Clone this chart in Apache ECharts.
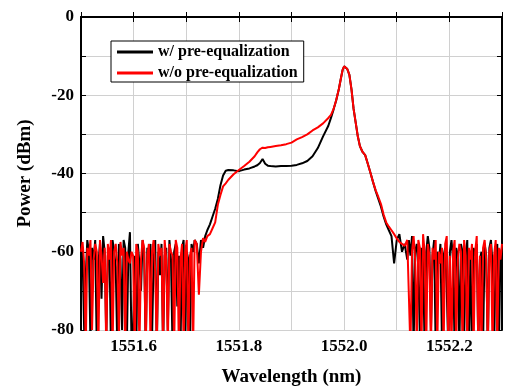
<!DOCTYPE html>
<html><head><meta charset="utf-8">
<script src="https://cdn.jsdelivr.net/npm/echarts@6/dist/echarts.min.js"></script>
<style>html,body{margin:0;padding:0;background:#fff}#c{width:505px;height:392px}</style>
</head><body><div id="c"></div>
<script>
// ---- data (wavelength in nm, power in dBm) ----
var wlLeft = [1551.500,1551.503,1551.506,1551.509,1551.512,1551.515,1551.518,1551.521,1551.524,1551.527,
1551.530,1551.533,1551.536,1551.539,1551.542,1551.545,1551.548,1551.551,1551.554,1551.557,
1551.560,1551.563,1551.566,1551.569,1551.572,1551.575,1551.578,1551.581,1551.584,1551.587,
1551.590,1551.593,1551.596,1551.599,1551.602,1551.605,1551.608,1551.611,1551.614,1551.617,
1551.620,1551.623,1551.626,1551.629,1551.632,1551.635,1551.638,1551.641,1551.644,1551.647,
1551.650,1551.653,1551.656,1551.659,1551.662,1551.665,1551.668,1551.671,1551.674,1551.677,
1551.680,1551.683,1551.686,1551.689,1551.692,1551.695,1551.698,1551.701,1551.704,1551.707,
1551.710,1551.713,1551.716];
var blackLeft = [-58,-61,-80,-66,-57,-60,-84,-59,-62,-57,
-85,-63,-58,-72,-56,-60,-82,-61,-59,-85,
-57,-60,-64,-85,-58,-62,-80,-57,-59,-85,
-60,-55,-84,-80,-61,-85,-58,-63,-70,-57,
-60,-85,-59,-61,-58,-82,-62,-57,-85,-60,
-66,-58,-85,-61,-59,-80,-57,-62,-85,-60,
-58,-74,-61,-85,-59,-57,-83,-60,-62,-85,
-58,-60,-57];
var redLeft = [-60,-57.5,-63,-85,-59,-61,-57,-80,-62,-58,
-60,-85,-57,-61,-68,-59,-85,-58,-62,-57,
-85,-60,-58,-63,-82,-57.5,-61,-59,-85,-60,
-62,-63,-60,-61,-85,-58,-60,-85,-62,-57,
-59,-85,-61,-58,-83,-60,-57,-65,-85,-58,
-61,-59,-85,-57,-62,-84,-58,-60,-61,-85,
-57,-59,-85,-62,-58,-85,-60,-57,-85,-61,
-59,-85,-57];

var wlMid = [1551.720,1551.724,1551.728,1551.732,1551.736,1551.740,1551.745,1551.750,1551.755,1551.760,
1551.765,1551.770,1551.775,1551.780,1551.790,1551.800,1551.810,1551.820,1551.830,1551.835,
1551.840,1551.845,1551.850,1551.855,1551.860,1551.870,1551.880,1551.890,1551.900,1551.910,
1551.920,1551.930,1551.940,1551.950,1551.960,1551.970,1551.975,1551.980,1551.985,1551.990,
1551.994,1551.997,1552.000,1552.003,1552.006,1552.010,1552.014,1552.018,1552.022,1552.026,
1552.030,1552.035,1552.040,1552.045,1552.050,1552.055,1552.060,1552.065,1552.070,1552.075,
1552.080,1552.085,1552.090,1552.095,1552.100,1552.105,1552.110,1552.115,1552.120];
var blackMid = [-58,-63,-57,-59,-56,-54.5,-53,-51,-49,-46.5,
-43,-40.5,-39.3,-39.1,-39.2,-39.4,-39,-38.7,-38.2,-37.9,
-37.3,-36.3,-37.5,-38,-38.1,-38.2,-38.1,-38.1,-38,-37.8,
-37.4,-36.8,-35.6,-33.5,-30.5,-27.8,-25.8,-23.6,-21.3,-18.4,
-15.6,-13.6,-12.6,-12.7,-13.3,-14.8,-18.5,-23.5,-27,-30.5,
-33,-34.5,-35.3,-37.5,-39.8,-42.2,-44.5,-46.5,-48.5,-51,
-53,-54.5,-56,-63,-57,-55.5,-60,-58,-62];
var redMid = [-58,-71,-60,-56.5,-57.5,-56,-55.5,-54,-52.5,-48,
-45.5,-43.3,-42.5,-41.6,-40.2,-39.1,-38.1,-37,-35.6,-34.6,
-33.8,-33.4,-33.5,-33.3,-33.2,-33,-32.8,-32.5,-32.1,-31.3,
-30.7,-30,-29,-28.2,-27.2,-25.8,-25,-23.5,-21.2,-18.4,
-15.6,-13.6,-12.6,-12.7,-13.3,-14.8,-18.5,-23.5,-27,-30.5,
-33,-34.5,-35.3,-37.5,-39.8,-42.2,-44.3,-46,-47.8,-50.5,
-52.5,-53.6,-54.5,-55.5,-56.6,-57.5,-58,-58.5,-57];

var wlRight = [1552.123,1552.126,1552.129,1552.132,1552.135,1552.138,1552.141,1552.144,1552.147,1552.150,
1552.153,1552.156,1552.159,1552.162,1552.165,1552.168,1552.171,1552.174,1552.177,1552.180,
1552.183,1552.186,1552.189,1552.192,1552.195,1552.198,1552.201,1552.204,1552.207,1552.210,
1552.213,1552.216,1552.219,1552.222,1552.225,1552.228,1552.231,1552.234,1552.237,1552.240,
1552.243,1552.246,1552.249,1552.252,1552.255,1552.258,1552.261,1552.264,1552.267,1552.270,
1552.273,1552.276,1552.279,1552.282,1552.285,1552.288,1552.291,1552.294,1552.297,1552.300];
var blackRight = [-57,-61,-56,-85,-60,-58,-64,-82,-59,-62,
-85,-60,-56,-59,-80,-61,-57,-85,-60,-63,
-58,-84,-61,-59,-70,-85,-60,-57,-62,-85,
-59,-61,-85,-58,-60,-82,-62,-57,-85,-60,
-85,-59,-61,-58,-85,-62,-60,-84,-58,-61,
-85,-59,-57,-63,-85,-60,-58,-85,-61,-59];
var redRight = [-57.5,-85,-60,-56,-62,-84,-57,-59,-85,-55.5,
-60,-85,-58,-61,-85,-59,-62,-57,-85,-60,
-63,-59,-85,-58,-56,-85,-61,-85,-60,-57,
-85,-62,-58,-60,-85,-57,-61,-85,-59,-62,
-58,-85,-60,-56,-85,-61,-85,-59,-57,-62,
-85,-60,-58,-85,-61,-57,-85,-59,-62,-58];

var xTicks = [1551.6, 1551.8, 1552.0, 1552.2];
var yTicks = [0, -20, -40, -60, -80];
var seriesNames = ['w/ pre-equalization', 'w/o pre-equalization'];

function pairs(wls, ps) {
  var out = [];
  for (var k = 0; k < wls.length; k++) {
    for (var j = 0; j < wls[k].length; j++) out.push([wls[k][j], ps[k][j]]);
  }
  return out;
}
var blackData = pairs([wlLeft, wlMid, wlRight], [blackLeft, blackMid, blackRight]);
var redData = pairs([wlLeft, wlMid, wlRight], [redLeft, redMid, redRight]);

var FF = "'Liberation Serif','Times New Roman',serif";
var chart = echarts.init(document.getElementById('c'), null, {renderer: 'canvas'});
var axLine = {show: true, lineStyle: {color: '#000', width: 2}};
var tick = {show: true, inside: true, length: 5, lineStyle: {color: '#000', width: 1}};
var split = {show: true, lineStyle: {color: '#d0d0d0', width: 1}};
var lblStyle = {color: '#000', fontFamily: FF, fontWeight: 'bold', fontSize: 17};

chart.setOption({
  animation: false,
  backgroundColor: '#fff',
  grid: {left: 81, right: 0, top: 17, bottom: 61, containLabel: false},
  legend: {
    orient: 'vertical', left: 111, top: 41,
    itemWidth: 36, itemHeight: 3, itemGap: 5,
    padding: [3, 6, 1, 6],
    borderColor: '#000', borderWidth: 1, backgroundColor: '#fff',
    textStyle: {color: '#000', fontFamily: FF, fontWeight: 'bold', fontSize: 16},
    data: [{name: seriesNames[0], icon: 'rect'}, {name: seriesNames[1], icon: 'rect'}]
  },
  xAxis: [{
    type: 'value', min: 1551.5, max: 1552.3, interval: 0.1, position: 'bottom',
    axisLine: axLine, axisTick: tick, splitLine: split,
    axisLabel: Object.assign({margin: 8, showMinLabel: true, showMaxLabel: true, formatter: function (v) {
      for (var i = 0; i < xTicks.length; i++) if (Math.abs(v - xTicks[i]) < 1e-6) return xTicks[i].toFixed(1);
      return '';
    }}, lblStyle),
    name: 'Wavelength (nm)', nameLocation: 'middle', nameGap: 38,
    nameTextStyle: {color: '#000', fontFamily: FF, fontWeight: 'bold', fontSize: 19}
  }, {
    type: 'value', min: 1551.5, max: 1552.3, interval: 0.1, position: 'top',
    axisLine: axLine, axisTick: tick, splitLine: {show: false}, axisLabel: {show: false}
  }],
  yAxis: [{
    type: 'value', min: -80, max: 0, interval: 10, position: 'left',
    axisLine: axLine, axisTick: tick, splitLine: split,
    axisLabel: Object.assign({margin: 7, formatter: function (v) {
      return yTicks.indexOf(Math.round(v)) >= 0 ? String(Math.round(v)) : '';
    }}, lblStyle),
    name: 'Power (dBm)', nameLocation: 'middle', nameGap: 46, nameRotate: 90,
    nameTextStyle: {color: '#000', fontFamily: FF, fontWeight: 'bold', fontSize: 19}
  }, {
    type: 'value', min: -80, max: 0, interval: 10, position: 'right',
    axisLine: axLine, axisTick: tick, splitLine: {show: false}, axisLabel: {show: false}
  }],
  series: [{
    name: seriesNames[0], type: 'line', data: blackData, symbol: 'none', showSymbol: false,
    lineStyle: {color: '#000', width: 2}, itemStyle: {color: '#000'}, z: 2, clip: true
  }, {
    name: seriesNames[1], type: 'line', data: redData, symbol: 'none', showSymbol: false,
    lineStyle: {color: '#ff0000', width: 2}, itemStyle: {color: '#ff0000'}, z: 3, clip: true
  }]
});
</script></body></html>
